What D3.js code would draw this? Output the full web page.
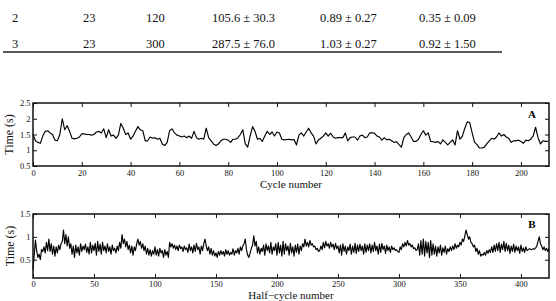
<!DOCTYPE html>
<html><head><meta charset="utf-8">
<script src="https://cdn.jsdelivr.net/npm/d3@7"></script>
<style>body{margin:0;background:#fff}svg{display:block}</style>
</head><body>
<svg id="c" width="556" height="301"></svg>
<script>
const tableRows = [
  ["2","23","120","105.6 ± 30.3","0.89 ± 0.27","0.35 ± 0.09"],
  ["3","23","300","287.5 ± 76.0","1.03 ± 0.27","0.92 ± 1.50"]
];
const cycleTimes = [
1.50,1.30,1.25,1.22,1.45,1.60,1.62,1.55,1.50,1.32,
1.30,1.50,2.00,1.65,1.78,1.60,1.38,1.36,1.38,1.42,
1.52,1.52,1.50,1.50,1.48,1.50,1.58,1.60,1.55,1.68,
1.40,1.65,1.45,1.48,1.38,1.48,1.85,1.70,1.50,1.55,
1.35,1.45,1.60,1.75,1.65,1.62,1.30,1.30,1.42,1.38,
1.40,1.35,1.38,1.20,1.15,1.25,1.62,1.68,1.55,1.48,
1.45,1.42,1.45,1.40,1.45,1.38,1.60,1.40,1.35,1.38,
1.35,1.70,1.40,1.30,1.20,1.15,1.20,1.30,1.35,1.35,
1.32,1.25,1.35,1.35,1.40,1.50,1.65,1.20,1.10,1.45,
1.75,1.60,1.35,1.38,1.28,1.45,1.60,1.50,1.58,1.45,
1.58,1.55,1.35,1.33,1.34,1.35,1.33,1.34,1.17,1.48,
1.55,1.45,1.58,1.70,1.55,1.45,1.20,1.33,1.38,1.45,
1.55,1.45,1.54,1.42,1.38,1.40,1.40,1.40,1.55,1.30,
1.40,1.42,1.42,1.32,1.45,1.48,1.40,1.42,1.55,1.55,
1.54,1.45,1.42,1.32,1.40,1.33,1.35,1.30,1.25,1.27,
1.18,1.10,1.40,1.50,1.55,1.42,1.28,1.28,1.35,1.50,
1.62,1.48,1.55,1.28,1.27,1.25,1.28,1.20,1.33,1.25,
1.17,1.25,1.33,1.17,1.62,1.35,1.45,1.70,1.90,1.88,
1.55,1.25,1.18,1.07,1.07,1.10,1.20,1.30,1.38,1.35,
1.42,1.55,1.45,1.50,1.42,1.38,1.25,1.30,1.30,1.32,
1.28,1.22,1.32,1.30,1.35,1.45,1.73,1.40,1.20,1.30,
1.28,1.28
];
const halfCycleTimes = [
0.28,0.60,0.93,0.70,0.55,0.62,0.50,0.72,0.68,0.78,
0.65,0.88,0.70,0.95,0.68,0.85,0.62,0.80,0.58,0.78,0.65,0.82,0.72,0.85,0.90,
1.15,0.85,1.05,0.80,1.00,0.75,
0.85,0.62,0.80,0.55,0.82,0.65,0.78,0.60,0.85,0.68,0.80,0.72,0.84,0.66,0.78,0.62,0.88,0.65,0.82,0.70,0.86,0.60,0.90,0.68,0.84,0.62,0.88,0.70,0.80,0.65,
0.85,0.68,0.78,0.62,0.82,0.70,0.75,0.65,0.80,0.70,0.88,0.75,
1.05,0.85,0.95,0.78,0.90,0.72,0.82,0.65,
0.80,0.60,0.78,0.70,0.85,0.95,0.82,0.90,0.75,0.85,0.70,0.80,
0.62,0.75,0.60,0.72,0.58,0.70,0.62,0.78,0.60,0.72,0.58,0.75,0.65,0.70,0.55,0.72,0.60,0.68,0.55,
0.88,0.78,0.85,0.75,0.82,0.72,0.80,0.70,0.82,0.74,0.78,0.68,0.80,0.72,0.76,0.66,0.84,0.70,0.78,0.65,0.82,0.68,0.86,0.72,0.78,0.62,0.80,0.70,0.85,
0.95,0.80,0.70,0.78,0.62,0.75,0.60,0.70,
0.58,0.65,0.55,0.68,0.60,0.70,0.62,0.68,0.58,0.72,0.62,0.70,0.60,0.66,0.62,0.74,0.60,0.70,0.65,0.75,0.62,0.78,
0.70,0.80,0.85,0.95,0.72,0.60,0.55,0.65,0.75,0.82,
1.02,0.80,0.90,0.65,0.78,0.62,0.75,0.68,0.82,0.60,0.85,0.70,0.80,0.65,0.88,0.62,0.78,0.70,
0.85,0.60,0.88,0.65,0.82,0.58,0.90,0.62,0.85,0.70,0.80,0.60,0.86,0.65,0.78,0.58,0.82,0.66,0.84,0.62,0.80,0.70,0.85,0.78,
0.95,0.80,0.88,0.78,0.92,0.82,0.85,0.78,0.80,0.72,0.75,0.68,0.70,
0.80,0.72,0.88,0.76,0.90,0.80,0.85,0.75,0.88,0.78,0.84,0.72,0.86,0.74,0.80,
0.65,0.82,0.60,0.85,0.68,0.80,0.62,0.78,0.70,0.84,0.62,0.80,0.66,0.86,0.64,0.82,0.68,0.84,0.70,0.80,0.62,0.85,0.66,0.82,0.70,
0.85,0.65,0.82,0.68,0.88,0.70,0.80,0.62,0.84,0.66,0.86,0.72,0.80,0.64,0.82,0.70,0.78,0.66,0.80,0.72,0.76,0.70,0.72,0.68,0.66,
0.78,0.72,0.85,0.78,0.88,0.80,0.92,0.82,0.85,0.78,0.82,0.74,0.76,0.70,0.72,
0.85,0.60,0.92,0.62,0.95,0.58,0.90,0.65,0.88,0.55,0.92,0.60,0.85,0.62,0.80,0.58,0.78,0.65,0.82,0.60,0.76,0.66,0.80,0.62,0.74,0.68,0.78,0.70,0.80,0.72,
0.85,0.75,0.82,0.78,0.88,0.82,0.95,0.90,1.02,1.15,1.05,0.95,1.00,0.88,0.85,
0.78,0.82,0.68,0.75,0.62,0.70,0.58,0.62,0.60,0.66,0.60,0.70,0.64,0.72,0.66,
0.78,0.66,0.82,0.68,0.85,0.70,0.88,0.66,0.84,0.72,0.90,0.68,0.86,0.70,0.82,0.64,0.80,0.68,0.84,0.66,0.80,0.70,0.78,0.64,0.82,0.68,0.76,0.66,0.78,0.70,
0.72,0.74,0.73,0.72,0.74,0.73,0.76,0.80,0.90,1.00,0.85,0.80,0.72,0.78,0.70,0.75,0.68,0.74
];
const cycleTicks = [0,20,40,60,80,100,120,140,160,180,200];
const halfCycleTicks = [0,50,100,150,200,250,300,350,400];
const timeTicksA = [0.5,1,1.5,2,2.5];
const timeTicksB = [0.5,1,1.5];

const svg = d3.select("#c");
const serif = "'Liberation Serif','Times New Roman',serif";
const ink = "#111";

// table fragment
const colX = [12,83,146,212,320,419];
const rowY = [21.5,47.5];
tableRows.forEach((row,ri)=>{
  row.forEach((cell,ci)=>{
    svg.append("text").attr("x",colX[ci]).attr("y",rowY[ri])
      .attr("font-family",serif).attr("font-size",12.5).attr("fill",ink).text(cell);
  });
});
svg.append("line").attr("x1",3).attr("x2",502).attr("y1",52).attr("y2",52)
  .attr("stroke","#222").attr("stroke-width",1.6);

function panel(opt){
  const {data, xMax, yDom, xTicks, yTicks, top, bottom, left, right, xTitle, tag, xPad, titleY, ylabX, tagY} = opt;
  const x = d3.scaleLinear().domain([0,xMax]).range([left,right]);
  const y = d3.scaleLinear().domain(yDom).range([bottom,top]);
  const g = svg.append("g");
  const style = sel => {
    sel.select(".domain").remove();
    sel.selectAll(".tick line").attr("stroke",ink).attr("stroke-width",1);
    sel.selectAll("text").attr("font-family",serif).attr("font-size",8.5).attr("fill",ink);
  };
  g.append("g").attr("transform",`translate(0,${bottom})`)
    .call(d3.axisBottom(x).tickValues(xTicks).tickSize(-4).tickPadding(xPad).tickFormat(d3.format("d"))).call(style);
  g.append("g").attr("transform",`translate(0,${top})`)
    .call(d3.axisTop(x).tickValues(xTicks).tickSize(-4).tickFormat("")).call(style);
  g.append("g").attr("transform",`translate(${left},0)`)
    .call(d3.axisLeft(y).tickValues(yTicks).tickSize(-4).tickPadding(2.5).tickFormat(d=>String(d))).call(style);
  g.append("g").attr("transform",`translate(${right},0)`)
    .call(d3.axisRight(y).tickValues(yTicks).tickSize(-4).tickFormat("")).call(style);
  g.append("path").datum(data)
    .attr("d", d3.line().x((d,i)=>x(i)).y(d=>y(d)))
    .attr("fill","none").attr("stroke","#000").attr("stroke-width",1.15).attr("stroke-linejoin","round");
  g.append("rect").attr("x",left).attr("y",top).attr("width",right-left).attr("height",bottom-top)
    .attr("fill","none").attr("stroke",ink).attr("stroke-width",1.5);
  g.append("text").attr("x",(left+right)/2).attr("y",titleY).attr("text-anchor","middle")
    .attr("font-family",serif).attr("font-size",11).attr("fill",ink).text(xTitle);
  g.append("text").attr("transform",`translate(${ylabX},${(top+bottom)/2}) rotate(-90)`)
    .attr("text-anchor","middle").attr("font-family",serif).attr("font-size",12).attr("fill",ink).text("Time (s)");
  g.append("text").attr("x",532).attr("y",tagY).attr("text-anchor","middle")
    .attr("font-family",serif).attr("font-size",11).attr("font-weight","bold").attr("fill","#000").text(tag);
}

panel({data:cycleTimes, xMax:211.5, yDom:[0.5,2.5], xTicks:cycleTicks, yTicks:timeTicksA,
  top:103, bottom:166, left:33, right:549, xTitle:"Cycle number", tag:"A", xPad:4, titleY:187.5, ylabX:12.5, tagY:117.5});
panel({data:halfCycleTimes, xMax:423, yDom:[0.1,1.5], xTicks:halfCycleTicks, yTicks:timeTicksB,
  top:214, bottom:278, left:33, right:549, xTitle:"Half\u2212cycle number", tag:"B", xPad:3, titleY:299, ylabX:13.5, tagY:228});
</script>
</body></html>
